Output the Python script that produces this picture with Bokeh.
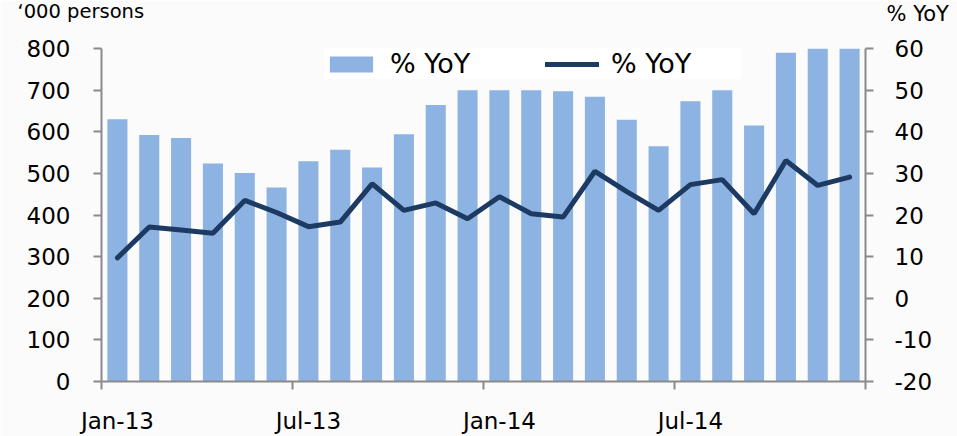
from bokeh.plotting import figure
from bokeh.models import (Range1d, LinearAxis, FixedTicker, Legend, LegendItem,
                          Label, ColumnDataSource)
from bokeh.embed import file_html
from bokeh.resources import INLINE

months = ["Jan-13", "Feb-13", "Mar-13", "Apr-13", "May-13", "Jun-13",
          "Jul-13", "Aug-13", "Sep-13", "Oct-13", "Nov-13", "Dec-13",
          "Jan-14", "Feb-14", "Mar-14", "Apr-14", "May-14", "Jun-14",
          "Jul-14", "Aug-14", "Sep-14", "Oct-14", "Nov-14", "Dec-14"]
persons = [630, 592, 585, 524, 501, 466, 529, 557, 514, 594, 664, 700,
           700, 700, 697, 684, 629, 565, 673, 700, 615, 790, 800, 800]
yoy = [9.7, 17.1, 16.4, 15.6, 23.5, 20.6, 17.2, 18.3, 27.5, 21.1, 22.9, 19.1,
       24.4, 20.3, 19.5, 30.5, 25.6, 21.1, 27.3, 28.5, 20.3, 33.1, 27.1, 29.1]
tick_labels = ["Jan-13", "Jul-13", "Jan-14", "Jul-14"]
left_ticks = [0, 100, 200, 300, 400, 500, 600, 700, 800]
right_ticks = [-20, -10, 0, 10, 20, 30, 40, 50, 60]

xs = [i + 0.5 for i in range(len(months))]
src = ColumnDataSource(dict(x=xs, month=months, persons=persons, yoy=yoy))

FONT = "DejaVu Sans"
AXIS_COL = "#8a8a8a"
BG = "#fbfbfb"

p = figure(width=957, height=436, output_backend="svg", toolbar_location=None,
           x_range=Range1d(0, len(months)), y_range=Range1d(0, 800),
           min_border_left=101, min_border_right=92, min_border_top=48,
           min_border_bottom=55)
p.background_fill_color = BG
p.border_fill_color = BG
p.outline_line_color = None
p.xgrid.grid_line_color = None
p.ygrid.grid_line_color = None

p.extra_y_ranges = {"right": Range1d(-20, 60)}

bars = p.vbar(x="x", top="persons", bottom=0, width=0.63, source=src,
              fill_color="#8db3e2", line_color=None)
line = p.line(x="x", y="yoy", source=src, y_range_name="right",
              line_color="#1c3a62", line_width=5, line_cap="round")

def style(ax):
    ax.axis_line_color = AXIS_COL
    ax.axis_line_width = 2
    ax.major_tick_line_color = AXIS_COL
    ax.major_tick_line_width = 2
    ax.major_tick_in = 0
    ax.major_tick_out = 8
    ax.minor_tick_line_color = None
    ax.major_label_text_font = FONT
    ax.major_label_text_font_size = "23px"
    ax.major_label_text_color = "#000000"
    ax.major_label_standoff = 23

# left axis
la = p.yaxis[0]
la.ticker = FixedTicker(ticks=left_ticks)
style(la)

# right axis
ra = LinearAxis(y_range_name="right", ticker=FixedTicker(ticks=right_ticks))
style(ra)
ra.major_label_standoff = 21
ra.major_label_overrides = {t: str(t) for t in right_ticks}
p.add_layout(ra, "right")

# bottom axis
ba = p.xaxis[0]
centers = [xs[months.index(m)] for m in tick_labels]
edges = [0, 6, 12, 18, 24]
ba.ticker = FixedTicker(ticks=centers, minor_ticks=edges)
ba.major_label_overrides = {c: m for c, m in zip(centers, tick_labels)}
style(ba)
ba.major_tick_line_color = None
ba.minor_tick_line_color = AXIS_COL
ba.minor_tick_line_width = 2
ba.minor_tick_in = 0
ba.minor_tick_out = 8
ba.major_label_standoff = 18

legend = Legend(items=[LegendItem(label="% YoY", renderers=[bars]),
                       LegendItem(label="% YoY", renderers=[line])],
                orientation="horizontal", location=(223, 302), margin=0,
                padding=14, spacing=25, glyph_width=54, glyph_height=20,
                label_standoff=12, label_width=130, label_height=26,
                label_text_font=FONT, label_text_font_size="27px",
                label_text_color="#000000",
                background_fill_color="#ffffff", background_fill_alpha=1,
                border_line_color=None)
p.add_layout(legend)

p.add_layout(Label(x=-84, y=37, x_units="screen", y_units="screen",
                   text="\u2018000 persons", text_font=FONT,
                   text_font_size="19.5px", text_baseline="middle",
                   text_align="left", text_color="#000000"), "above")
p.add_layout(Label(x=785, y=12, x_units="screen", y_units="screen",
                   text="% YoY", text_font=FONT,
                   text_font_size="21px", text_baseline="middle",
                   text_align="left", text_color="#000000"), "above")

open("out.html", "w").write(file_html(p, INLINE))
